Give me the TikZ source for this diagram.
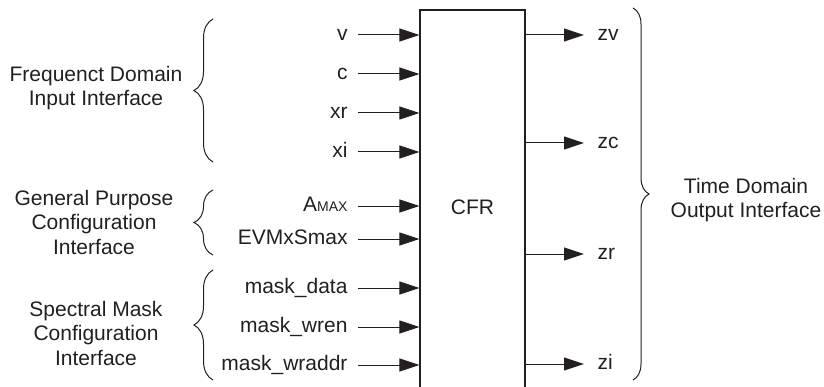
\documentclass[tikz,border=0pt]{standalone}
\usepackage{fontspec}
\setmainfont{Liberation Sans}
\usetikzlibrary{arrows.meta,decorations.pathreplacing}
\definecolor{ink}{HTML}{231F20}
\begin{document}
\begin{tikzpicture}[x=0.5pt,y=0.5pt,line width=0.5pt,color=ink,
		>={Triangle[length=10pt,width=6.5pt]},
		font=\fontsize{10.5}{12.25}\selectfont,
		sig/.style={inner xsep=5pt,inner ysep=0pt,text height=1ex,text depth=0pt},
		brc/.style={decorate,decoration={brace,amplitude=9.5pt}},
		grp/.style={align=center,inner sep=0pt}]
		\useasboundingbox (0,0) rectangle (824,386);
		\clip (0,0) rectangle (824,386);
		% the CFR block, open at the bottom
		\node[draw,line width=0.6pt,minimum width=52.5pt,minimum height=197pt,inner sep=0pt] (cfr) at (472.5,179) {CFR};
		% inputs
		\node[sig,anchor=east] (v) at (358,351) {v};
		\node[sig,anchor=east] (c) at (358,312) {c};
		\node[sig,anchor=east] (xr) at (358,273) {xr};
		\node[sig,anchor=east] (xi) at (358,234) {xi};
		\node[sig,anchor=east] (amax) at (358,180) {A{\fontsize{7}{8}\selectfont MAX}};
		\node[sig,anchor=east] (evm) at (358,147) {EVMxSmax};
		\node[sig,anchor=east] (mdata) at (358,98) {mask\_data};
		\node[sig,anchor=east] (mwren) at (358,59) {mask\_wren};
		\node[sig,anchor=east] (mwaddr) at (358,21) {mask\_wraddr};
		\draw[->] (v.east) -- (v.east -| cfr.west);
		\draw[->] (c.east) -- (c.east -| cfr.west);
		\draw[->] (xr.east) -- (xr.east -| cfr.west);
		\draw[->] (xi.east) -- (xi.east -| cfr.west);
		\draw[->] (amax.east) -- (amax.east -| cfr.west);
		\draw[->] (evm.east) -- (evm.east -| cfr.west);
		\draw[->] (mdata.east) -- (mdata.east -| cfr.west);
		\draw[->] (mwren.east) -- (mwren.east -| cfr.west);
		\draw[->] (mwaddr.east) -- (mwaddr.east -| cfr.west);
		% outputs
		\node[sig,anchor=west,inner xsep=6.5pt] (zv) at (584,351) {zv};
		\node[sig,anchor=west,inner xsep=6.5pt] (zc) at (584,243) {zc};
		\node[sig,anchor=west,inner xsep=6.5pt] (zr) at (584,132) {zr};
		\node[sig,anchor=west,inner xsep=6.5pt] (zi) at (584,22) {zi};
		\draw[->] (zv.west -| cfr.east) -- (zv.west);
		\draw[->] (zc.west -| cfr.east) -- (zc.west);
		\draw[->] (zr.west -| cfr.east) -- (zr.west);
		\draw[->] (zi.west -| cfr.east) -- (zi.west);
		% interface groups
		\draw[brc] (213,224) -- (213,367);
		\draw[brc] (213,131) -- (213,196);
		\draw[brc] (213,6) -- (213,116);
		\draw[brc,decoration={amplitude=8pt}] (633,378) -- (633,6);
		\node[grp] (freq) at (96,298) {Frequenct Domain\\Input Interface};
		\node[grp] (gen) at (94,164) {General Purpose\\Configuration\\Interface};
		\node[grp] (spec) at (96,53) {Spectral Mask\\Configuration\\Interface};
		\node[grp] (tdo) at (746,186) {Time Domain\\Output Interface};
\end{tikzpicture}
\end{document}
